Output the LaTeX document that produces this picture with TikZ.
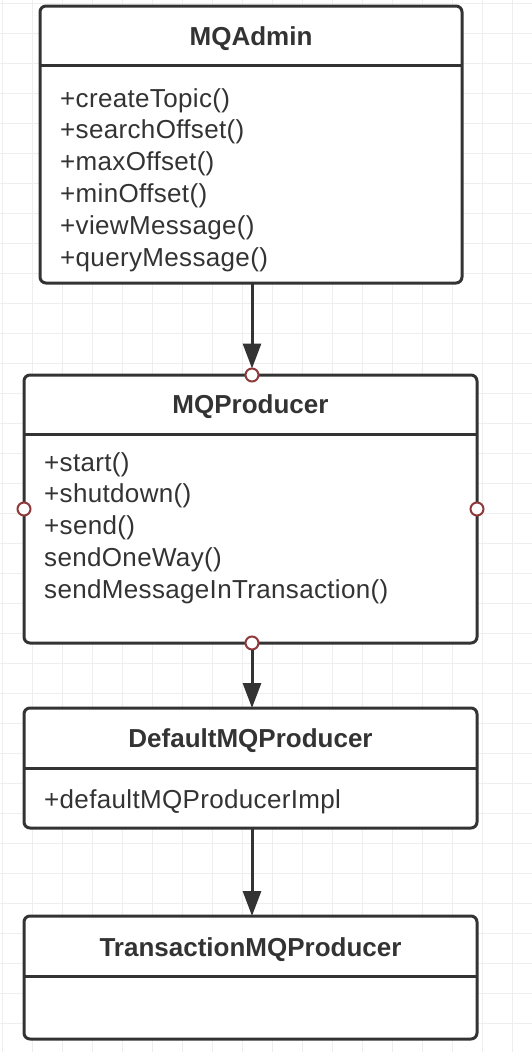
\documentclass[tikz,border=0pt]{standalone}
\usepackage{fontspec}
\setmainfont{Liberation Sans}[LetterSpace=1.3,BoldFeatures={LetterSpace=0}]
\usetikzlibrary{arrows.meta}
\definecolor{ink}{HTML}{333333}
\definecolor{gridc}{HTML}{EEEEEE}
\definecolor{portc}{HTML}{8E3A3A}
\begin{document}
\begin{tikzpicture}[x=1pt,y=-1pt,
  umlbox/.style={draw=ink, line width=3pt, rounded corners=6pt, fill=white, inner sep=0pt, outer sep=0pt},
  divider/.style={draw=ink, line width=3pt},
  titletext/.style={font=\bfseries\fontsize{26}{30}\selectfont, text=ink, inner sep=0pt, anchor=base},
  member/.style={font=\fontsize{26}{30}\selectfont, text=ink, inner sep=0pt, anchor=base west},
  portc/.style={circle, draw=portc, line width=2pt, fill=white, minimum size=13pt, inner sep=0pt, outer sep=0pt},
  link/.style={draw=ink, line width=3pt, -{Triangle[length=25pt,width=18pt]}},
  gridline/.style={draw=gridc, line width=1pt}]
\useasboundingbox (0,0) rectangle (532,1052);
\fill[white] (0,0) rectangle (532,1052);
\foreach \gx in {2,32,...,512} \draw[gridline] (\gx,0) -- (\gx,1052);
\foreach \gy in {3,33,...,1043} \draw[gridline] (0,\gy) -- (532,\gy);

% MQAdmin
\node[umlbox, minimum width=422pt, minimum height=277pt] (b1) at (251,144.5) {};
\draw[divider] (b1.west |- 0,65) -- (b1.east |- 0,65);
\node[titletext] (t1) at (251,45.5) {MQAdmin};
\node[member] (m11) at (60,107) {+createTopic()};
\node[member] (m12) at (60,138.8) {+searchOffset()};
\node[member] (m13) at (60,170.6) {+maxOffset()};
\node[member] (m14) at (60,202.4) {+minOffset()};
\node[member] (m15) at (60,234.2) {+viewMessage()};
\node[member] (m16) at (60,266) {+queryMessage()};

% MQProducer
\node[umlbox, minimum width=453pt, minimum height=268pt] (b2) at (250.5,509) {};
\draw[divider] (b2.west |- 0,434) -- (b2.east |- 0,434);
\node[titletext] (t2) at (250.5,413.5) {MQProducer};
\node[member] (m21) at (44,471) {+start()};
\node[member] (m22) at (44,502.8) {+shutdown()};
\node[member] (m23) at (44,534.6) {+send()};
\node[member] (m24) at (44,566.4) {sendOneWay()};
\node[member] (m25) at (44,598.2) {sendMessageInTransaction()};

% DefaultMQProducer
\node[umlbox, minimum width=453pt, minimum height=120pt] (b3) at (250.5,768) {};
\draw[divider] (b3.west |- 0,768) -- (b3.east |- 0,768);
\node[titletext] (t3) at (250.5,747) {DefaultMQProducer};
\node[member] (m31) at (44,808) {+defaultMQProducerImpl};

% TransactionMQProducer
\node[umlbox, minimum width=453pt, minimum height=123pt] (b4) at (250.5,977.5) {};
\draw[divider] (b4.west |- 0,976) -- (b4.east |- 0,976);
\node[titletext] (t4) at (250.5,956) {TransactionMQProducer};

% ports
\node[portc] (c1) at (252,375) {};
\node[portc] (c2) at (24,509) {};
\node[portc] (c3) at (477,509) {};
\node[portc] (c4) at (252,643) {};

% links
\draw[link] (c1 |- b1.south) -- (c1.north);
\draw[link] (c4.south) -- (c4 |- b3.north);
\draw[link] (c4 |- b3.south) -- (c4 |- b4.north);
\end{tikzpicture}
\end{document}
